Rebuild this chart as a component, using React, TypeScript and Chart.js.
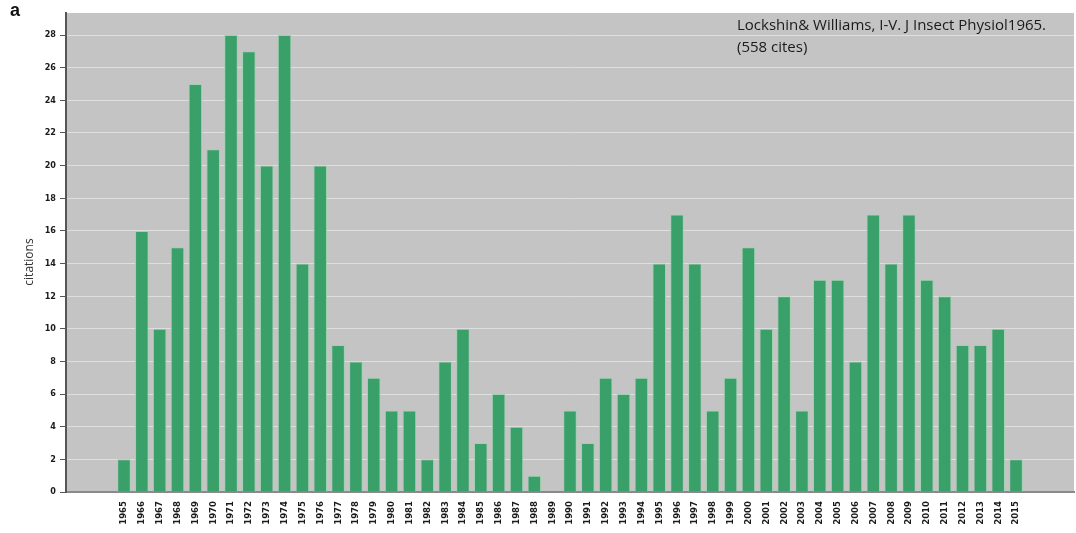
import React, { useEffect, useRef } from "react";
import { Chart, registerables } from "chart.js";

Chart.register(...registerables);

const years = [
  1965, 1966, 1967, 1968, 1969, 1970, 1971, 1972, 1973, 1974,
  1975, 1976, 1977, 1978, 1979, 1980, 1981, 1982, 1983, 1984,
  1985, 1986, 1987, 1988, 1989, 1990, 1991, 1992, 1993, 1994,
  1995, 1996, 1997, 1998, 1999, 2000, 2001, 2002, 2003, 2004,
  2005, 2006, 2007, 2008, 2009, 2010, 2011, 2012, 2013, 2014, 2015,
];

const citations = [
  2, 16, 10, 15, 25, 21, 28, 27, 20, 28,
  14, 20, 9, 8, 7, 5, 5, 2, 8, 10,
  3, 6, 4, 1, 0, 5, 3, 7, 6, 7,
  14, 17, 14, 5, 7, 15, 10, 12, 5, 13,
  13, 8, 17, 14, 17, 13, 12, 9, 9, 10, 2,
];

const yTicks = [0, 2, 4, 6, 8, 10, 12, 14, 16, 18, 20, 22, 24, 26, 28];

const plotBg = {
  id: "plotBg",
  beforeDraw(chart: any) {
    const { ctx, chartArea } = chart;
    ctx.save();
    ctx.fillStyle = "#c4c4c4";
    ctx.fillRect(chartArea.left, chartArea.top, chartArea.right - chartArea.left, chartArea.bottom - chartArea.top);
    ctx.restore();
  },
};

export default function App() {
  const ref = useRef<HTMLCanvasElement | null>(null);

  useEffect(() => {
    if (!ref.current) return;
    const chart = new Chart(ref.current, {
      type: "bar",
      data: {
        datasets: [
          {
            data: years.map((y, i) => ({ x: y, y: citations[i] })),
            backgroundColor: "#38a068",
            borderColor: "#9fd2ae",
            borderWidth: 1,
            borderSkipped: "bottom",
            barPercentage: 0.76,
            categoryPercentage: 1,
          },
        ],
      },
      options: {
        animation: false,
        responsive: false,
        maintainAspectRatio: false,
        layout: { padding: { left: 0, top: 13, right: 2, bottom: 0 } },
        plugins: { legend: { display: false }, tooltip: { enabled: false } },
        scales: {
          x: {
            type: "linear",
            offset: false,
            min: 1961.75,
            max: 2018.25,
            afterBuildTicks: (axis: any) => {
              axis.ticks = years.map((v) => ({ value: v }));
            },
            afterFit: (axis: any) => {
              axis.height = 41;
            },
            grid: { display: false, drawTicks: false, offset: false },
            border: { display: true, color: "#8a8a8a", width: 2 },
            ticks: {
              autoSkip: false,
              minRotation: 90,
              maxRotation: 90,
              padding: 9,
              color: "#1a1a1a",
              font: { family: "DejaVu Sans Condensed", size: 9.5, weight: "bold" },
              callback: (v: any) => String(v),
            },
          },
          y: {
            min: 0,
            max: 29.35,
            afterBuildTicks: (axis: any) => {
              axis.ticks = yTicks.map((v) => ({ value: v }));
            },
            afterFit: (axis: any) => {
              axis.width = 66;
            },
            grid: {
              color: "rgba(228,228,228,0.85)",
              lineWidth: 1,
              tickLength: 6,
              tickColor: "#555",
              drawOnChartArea: true,
            },
            border: { display: true, color: "#555", width: 2 },
            ticks: {
              padding: 4,
              color: "#1a1a1a",
              font: { family: "DejaVu Sans Condensed", size: 9, weight: "bold" },
              callback: (v: any) => String(v),
            },
          },
        },
      },
      plugins: [plotBg],
    } as any);
    return () => chart.destroy();
  }, []);

  return (
    <div style={{ position: "fixed", left: 0, top: 0, width: 1076, height: 533, background: "#fff" }}>
      <canvas ref={ref} width={1076} height={533} style={{ position: "absolute", left: 0, top: 0, width: 1076, height: 533 }} />
      <div
        style={{
          position: "absolute",
          left: 10,
          top: 0,
          fontFamily: "Liberation Sans, Arial, sans-serif",
          fontWeight: "bold",
          fontSize: 18,
          color: "#111",
        }}
      >
        a
      </div>
      <div
        style={{
          position: "absolute",
          left: 28,
          top: 262,
          transform: "translate(-50%, -50%) rotate(-90deg)",
          fontFamily: "Open Sans, sans-serif",
          fontSize: 12,
          color: "#333",
          whiteSpace: "nowrap",
        }}
      >
        citations
      </div>
      <div
        style={{
          position: "absolute",
          left: 737,
          top: 13,
          fontFamily: "Open Sans, sans-serif",
          fontSize: 15,
          lineHeight: "22px",
          color: "#1a1a1a",
          whiteSpace: "nowrap",
        }}
      >
        Lockshin&amp; Williams, I-V. J Insect Physiol1965.
        <br />
        (558 cites)
      </div>
    </div>
  );
}
